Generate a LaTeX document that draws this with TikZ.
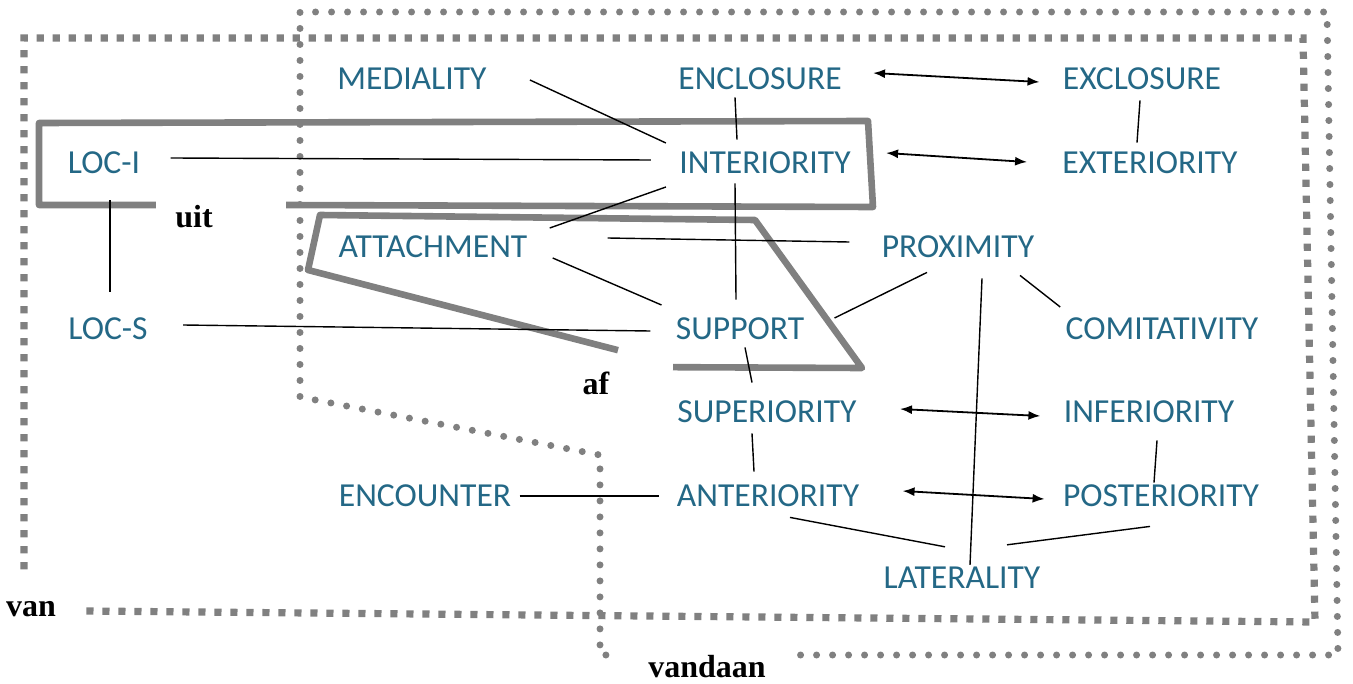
\documentclass[tikz,border=0pt]{standalone}
\usepackage{fontspec}
\usepackage{tikz}
\usetikzlibrary{calc,arrows,arrows.meta}
\newfontfamily\termfont{Carlito}
\newfontfamily\tagfont{Liberation Serif}
\definecolor{termblue}{RGB}{36,104,134}
\definecolor{linegrey}{RGB}{128,128,128}
\tikzset{
    term/.style = {inner sep=0pt, text=termblue,
        font=\termfont\fontsize{16.8}{19}\selectfont},
    tag/.style = {inner sep=0pt, font=\tagfont\bfseries\fontsize{16}{19}\selectfont},
    link/.style = {draw, line width=0.7pt},
    biarrow/.style = {draw, line width=0.9pt, <->},
    squaredots/.style = {draw=linegrey, line width=3.6pt, dash pattern=on 3.6pt off 4.4pt},
    rounddots/.style = {draw=linegrey, line width=3.5pt, line cap=round, dash pattern=on 0pt off 8pt},
    groupline/.style = {draw=linegrey, line width=3.3pt, line join=round}
}

\begin{document}
\begin{tikzpicture}[x=0.5pt, y=-0.5pt, >={Latex[length=6pt,width=4.5pt]}]
    \useasboundingbox (0,0) rectangle (1353,684);
    % the terms
    \node [term] (medi) at (412,79) {MEDIALITY};
    \node [term] (encl) at (760,79) {ENCLOSURE};
    \node [term] (excl) at (1142,79) {EXCLOSURE};
    \node [term] (loci) at (104,163) {LOC-I};
    \node [term] (inte) at (765,163) {INTERIORITY};
    \node [term] (exte) at (1150,163) {EXTERIORITY};
    \node [term] (atta) at (433,247) {ATTACHMENT};
    \node [term] (prox) at (958,247) {PROXIMITY};
    \node [term] (locs) at (108,329) {LOC-S};
    \node [term] (supp) at (740,329) {SUPPORT};
    \node [term] (comi) at (1162,329) {COMITATIVITY};
    \node [term] (supe) at (767,412) {SUPERIORITY};
    \node [term] (infe) at (1149,412) {INFERIORITY};
    \node [term] (enco) at (425,496) {ENCOUNTER};
    \node [term] (ante) at (768,496) {ANTERIORITY};
    \node [term] (post) at (1161,496) {POSTERIORITY};
    \node [term] (late) at (962,578) {LATERALITY};
    % the group labels
    \node [tag] (van) at (31,609) {van};
    \node [tag] (vandaan) at (707,667) {vandaan};
    \node [tag] (uit) at (194,217) {uit};
    \node [tag] (af) at (596,383) {af};
    % group outlines
    \draw [squaredots] ($(van.east)+(30,2)$) -- (1315,622) -- (1303,38) -- (24,38) -- (24,575);
    \draw [rounddots] ($(vandaan.west)+(-42,-12)$) -- (600,655) -- (600,455) -- (300,397) -- (300,12)
        -- (1327,12) -- (1338,655) -- ($(vandaan.east)+(30,-12)$);
    \draw [groupline] ($(uit.west)+(-19,-12)$) -- (39,205) -- (39,123) -- (868,121) -- (873,207)
        -- ($(uit.east)+(73,-12)$);
    \draw [groupline] ($(af.north)+(22,-21)$) -- (308,270) -- (320,215) -- (755,220) -- (862,368)
        -- ($(af.north)+(77,-4)$);
    % connectors
    \draw [link] ($(medi.east)+(43,1)$) -- ($(inte.west)+(-13,-20)$);
    \draw [link] ($(encl.south)+(-25,7)$) -- ($(inte.north)+(-28,-12)$);
    \draw [biarrow] ($(encl.east)+(31,-6)$) -- ($(excl.west)+(-23,3)$);
    \draw [link] ($(excl.south)+(-2,10)$) -- ($(exte.north)+(-13,-9)$);
    \draw [biarrow] ($(inte.east)+(35,-10)$) -- ($(exte.west)+(-35,-1)$);
    \draw [link] ($(loci.east)+(30,-5)$) -- ($(inte.west)+(-28,-3)$);
    \draw [link] ($(loci.south)+(6,26)$) -- ($(locs.north)+(2,-26)$);
    \draw [link] ($(inte.west)+(-13,24)$) -- ($(atta.east)+(22,-19)$);
    \draw [link] ($(inte.south)+(-30,9)$) -- ($(supp.north)+(-4,-18)$);
    \draw [link] ($(atta.east)+(80,-9)$) -- ($(prox.west)+(-32,-5)$);
    \draw [link] ($(atta.east)+(25,11)$) -- ($(supp.west)+(-14,-24)$);
    \draw [link] ($(prox.south)+(-31,14)$) -- ($(supp.east)+(30,-11)$);
    \draw [link] ($(prox.south)+(62,17)$) -- ($(comi.west)+(-5,-22)$);
    \draw [link] ($(prox.south)+(24,20)$) -- ($(late.north)+(8,-2)$);
    \draw [link] ($(locs.east)+(35,-4)$) -- ($(supp.west)+(-25,2)$);
    \draw [link] ($(supp.south)+(5,7)$) -- ($(supe.north)+(-15,-18)$);
    \draw [biarrow] ($(supe.east)+(43,-3)$) -- ($(infe.west)+(-23,4)$);
    \draw [link] ($(infe.south)+(8,17)$) -- ($(post.north)+(-7,-2)$);
    \draw [link] ($(supe.south)+(-15,10)$) -- ($(ante.north)+(-14,-13)$);
    \draw [link] ($(enco.east)+(8,0)$) -- ($(ante.west)+(-17,0)$);
    \draw [biarrow] ($(ante.east)+(43,-5)$) -- ($(post.west)+(-18,3)$);
    \draw [link] ($(ante.south)+(22,10)$) -- ($(late.north)+(-17,-20)$);
    \draw [link] ($(post.south)+(-11,19)$) -- ($(late.north)+(45,-22)$);
\end{tikzpicture}
\end{document}
